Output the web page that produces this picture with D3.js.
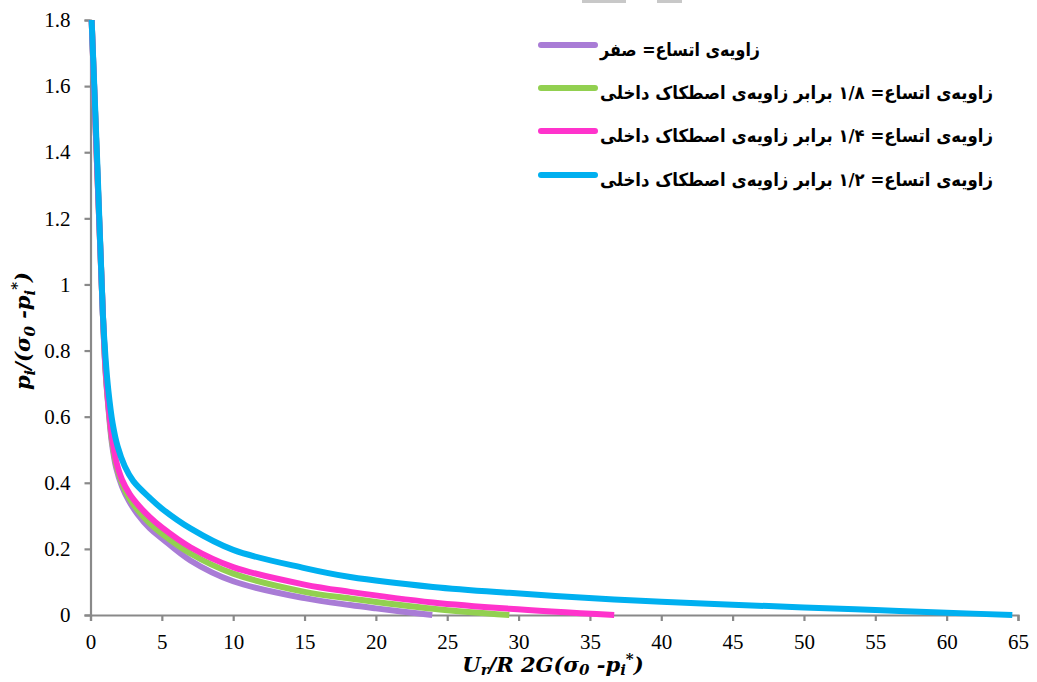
<!DOCTYPE html>
<html>
<head>
<meta charset="utf-8">
<script src="https://cdn.jsdelivr.net/npm/d3@7"></script>
<style>
  body { margin: 0; background: #fff; }
</style>
</head>
<body>
<svg id="chart"></svg>
<script>
// series
const xZero   = [0.08, 0.87, 1.05, 1.25, 1.5, 1.8, 2.2, 2.7, 3.3, 4.16, 5, 7, 10, 15, 18.2, 20, 23.95];
const yZero   = [1.8, 0.907, 0.74, 0.63, 0.52, 0.445, 0.39, 0.345, 0.305, 0.262, 0.232, 0.165, 0.102, 0.051, 0.03, 0.02, 0];
const xEighth = [0.08, 0.87, 1.05, 1.25, 1.5, 1.8, 2.2, 2.7, 3.3, 4.16, 5, 7, 10, 15, 18.2, 24, 29.35];
const yEighth = [1.8, 0.907, 0.745, 0.635, 0.53, 0.455, 0.4, 0.355, 0.318, 0.277, 0.246, 0.186, 0.125, 0.07, 0.05, 0.019, 0];
const xQuarter = [0.08, 0.87, 1.05, 1.25, 1.5, 1.8, 2.2, 2.76, 3.4, 4.16, 5, 7, 10, 15, 18.2, 24, 29.35, 36.7];
const yQuarter = [1.8, 0.907, 0.75, 0.64, 0.54, 0.465, 0.41, 0.365, 0.33, 0.296, 0.265, 0.205, 0.145, 0.092, 0.07, 0.038, 0.019, 0];
const xHalf   = [0.08, 0.5, 0.87, 1.05, 1.25, 1.55, 1.9, 2.4, 3.0, 4.16, 5, 7, 10, 15, 18.2, 24, 29.35, 36.7, 40, 45, 50, 55, 60, 64.6];
const yHalf   = [1.8, 1.34, 0.907, 0.78, 0.68, 0.58, 0.51, 0.45, 0.405, 0.354, 0.322, 0.262, 0.197, 0.142, 0.115, 0.085, 0.067, 0.047, 0.04, 0.031, 0.023, 0.015, 0.007, 0];

const seriesNames = [
  "زاویه‌ی اتساع= صفر",
  "زاویه‌ی اتساع= ۱/۸ برابر زاویه‌ی اصطکاک داخلی",
  "زاویه‌ی اتساع= ۱/۴ برابر زاویه‌ی اصطکاک داخلی",
  "زاویه‌ی اتساع= ۱/۲ برابر زاویه‌ی اصطکاک داخلی"
];
const seriesColors = ["#a97cd6", "#92d050", "#ff33cc", "#00b0f0"];

const xTicks = d3.range(0, 66, 5);
const yTicks = [0, 0.2, 0.4, 0.6, 0.8, 1, 1.2, 1.4, 1.6, 1.8];

const width = 1037, height = 682;
const svg = d3.select("#chart").attr("width", width).attr("height", height);

const x = d3.scaleLinear().domain([0, 65]).range([90.5, 1018]);
const y = d3.scaleLinear().domain([0, 1.8]).range([615, 20]);

// little grey marks at the top edge
svg.append("rect").attr("x", 582).attr("y", 0).attr("width", 44).attr("height", 3).attr("fill", "#c8c8c8");
svg.append("rect").attr("x", 657).attr("y", 0).attr("width", 25).attr("height", 3).attr("fill", "#c8c8c8");

const axisColor = "#898989";
const serif = "'Liberation Serif', 'Times New Roman', serif";

// x axis
const gx = svg.append("g")
  .attr("transform", `translate(0,${y(0)})`)
  .call(d3.axisBottom(x).tickValues(xTicks).tickSize(6).tickPadding(13).tickFormat(d3.format("d")));
// y axis
const gy = svg.append("g")
  .attr("transform", `translate(${x(0)},0)`)
  .call(d3.axisLeft(y).tickValues(yTicks).tickSize(6).tickPadding(14).tickFormat(d => String(+d.toFixed(1))));

[gx, gy].forEach(g => {
  g.attr("font-family", serif).attr("font-size", 21);
  g.select(".domain").attr("stroke", axisColor).attr("stroke-width", 2.2);
  g.selectAll(".tick line").attr("stroke", axisColor).attr("stroke-width", 2.2);
  g.selectAll(".tick text")
    .attr("fill", "#000")
    .style("font-family", serif)
    .style("font-size", "21px");
});

// curves
const allSeries = [
  xZero.map((v, i) => [v, yZero[i]]),
  xEighth.map((v, i) => [v, yEighth[i]]),
  xQuarter.map((v, i) => [v, yQuarter[i]]),
  xHalf.map((v, i) => [v, yHalf[i]])
];

const line = d3.line()
  .x(d => x(d[0]))
  .y(d => y(d[1]))
  .curve(d3.curveCatmullRom.alpha(0.5));

svg.append("g")
  .attr("fill", "none")
  .selectAll("path")
  .data(allSeries)
  .join("path")
  .attr("d", line)
  .attr("stroke", (d, i) => seriesColors[i])
  .attr("stroke-width", 6)
  .attr("stroke-linecap", "butt");

// legend
const legend = svg.append("g");
const legendY = [45, 88, 131, 175];
const legendLen = [160, 393, 393, 393];
seriesNames.forEach((name, i) => {
  legend.append("line")
    .attr("x1", 541).attr("x2", 595)
    .attr("y1", legendY[i]).attr("y2", legendY[i])
    .attr("stroke", seriesColors[i])
    .attr("stroke-width", 6)
    .attr("stroke-linecap", "round");
  legend.append("text")
    .attr("x", 600)
    .attr("y", legendY[i] + 11)
    .attr("text-anchor", "end")
    .attr("direction", "rtl")
    .attr("textLength", legendLen[i])
    .attr("lengthAdjust", "spacingAndGlyphs")
    .style("font-family", "'DejaVu Sans', sans-serif")
    .style("font-weight", "bold")
    .style("font-size", "18px")
    .text(name);
});

// axis titles
const titleFont = "'DejaVu Serif', serif";
function title(sel) {
  sel.style("font-family", titleFont)
    .style("font-weight", "bold")
    .style("font-style", "italic")
    .style("font-size", "21px");
  return sel;
}
const sub = "15px";

const xTitle = title(svg.append("text")
  .attr("x", 553).attr("y", 672)
  .attr("text-anchor", "middle"));
xTitle.append("tspan").text("U");
xTitle.append("tspan").attr("dy", 3).style("font-size", sub).text("r");
xTitle.append("tspan").attr("dy", -3).text("/R  2G(σ");
xTitle.append("tspan").attr("dy", 3).style("font-size", sub).text("0");
xTitle.append("tspan").attr("dy", -3).text(" -p");
xTitle.append("tspan").attr("dy", 3).style("font-size", sub).text("i");
xTitle.append("tspan").attr("dy", -11).style("font-size", sub).text("*");
xTitle.append("tspan").attr("dy", 8).text(")");

const yTitle = title(svg.append("text")
  .attr("transform", "translate(30,331) rotate(-90)")
  .attr("text-anchor", "middle"));
yTitle.append("tspan").text("p");
yTitle.append("tspan").attr("dy", 5).style("font-size", sub).text("i");
yTitle.append("tspan").attr("dy", -5).text("/(σ");
yTitle.append("tspan").attr("dy", 5).style("font-size", sub).text("0");
yTitle.append("tspan").attr("dy", -5).text(" -p");
yTitle.append("tspan").attr("dy", 5).style("font-size", sub).text("i");
yTitle.append("tspan").attr("dy", -13).style("font-size", sub).text("*");
yTitle.append("tspan").attr("dy", 8).text(")");
</script>
</body>
</html>
